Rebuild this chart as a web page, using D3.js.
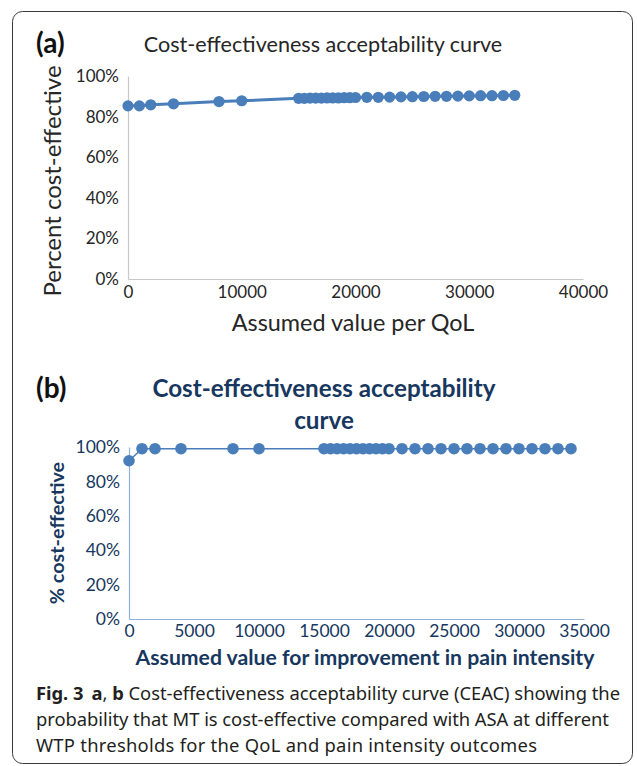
<!DOCTYPE html>
<html>
<head>
<meta charset="utf-8">
<script src="https://cdn.jsdelivr.net/npm/d3@7"></script>
<style>
  html, body { margin: 0; padding: 0; background: #fff; }
  svg { display: block; }
</style>
</head>
<body>
<svg id="fig" width="637" height="766"></svg>
<script>
// Willingness-to-pay thresholds shared by both panels
const wtp = [0, 1000, 2000, 4000, 8000, 10000,
  15000, 15500, 16000, 16500, 17000, 17500, 18000, 18500, 19000, 19500, 20000,
  21000, 22000, 23000, 24000, 25000, 26000, 27000, 28000, 29000, 30000,
  31000, 32000, 33000, 34000];

// Panel (a): probability cost-effective per QoL threshold (%)
const qolPct = [85.3, 85.3, 85.8, 86.3, 87.4, 87.8,
  89.0, 89.0, 89.1, 89.1, 89.1, 89.2, 89.2, 89.2, 89.3, 89.3, 89.4,
  89.5, 89.5, 89.6, 89.7, 89.8, 89.9, 90.0, 90.0, 90.1, 90.2,
  90.3, 90.3, 90.4, 90.5];

// Panel (b): probability cost-effective per pain-intensity threshold (%)
const painPct = [92, 99, 99, 99, 99, 99,
  99, 99, 99, 99, 99, 99, 99, 99, 99, 99, 99,
  99, 99, 99, 99, 99, 99, 99, 99, 99, 99,
  99, 99, 99, 99];

const yTicks = [0, 20, 40, 60, 80, 100];
const xTicksA = [0, 10000, 20000, 30000, 40000];
const xTicksB = [0, 5000, 10000, 15000, 20000, 25000, 30000, 35000];

const captionLines = [
  "Cost-effectiveness acceptability curve (CEAC) showing the",
  "probability that MT is cost-effective compared with ASA at different",
  "WTP thresholds for the QoL and pain intensity outcomes"
];

const svg = d3.select("#fig");
const CHART_FONT = "Lato, 'Open Sans', sans-serif";
const CAP_FONT = "'Noto Sans', 'Open Sans', sans-serif";
const markColor = "#4a7ebb";

// Outer rounded frame
svg.append("rect")
  .attr("x", 12.5).attr("y", 11.5)
  .attr("width", 620).attr("height", 752)
  .attr("rx", 10).attr("ry", 10)
  .attr("fill", "none").attr("stroke", "#3a3a3a").attr("stroke-width", 1);

function drawPanel(opt) {
  const g = svg.append("g");
  const x = d3.scaleLinear().domain(opt.xDomain).range(opt.xRange);
  const y = d3.scaleLinear().domain([0, 100]).range(opt.yRange);

  // y axis
  const ya = g.append("g").attr("transform", `translate(${opt.xRange[0]},0)`)
    .call(d3.axisLeft(y).tickValues(yTicks).tickSize(0).tickPadding(opt.tickPad)
      .tickFormat(d => d + "%"));
  ya.select(".domain").attr("stroke", opt.axisColor).attr("stroke-width", 1.2);
  ya.selectAll("text").attr("font-family", CHART_FONT).attr("font-size", opt.tickSize)
    .attr("fill", opt.textColor);

  // x axis
  const xa = g.append("g").attr("transform", `translate(0,${opt.yRange[0]})`)
    .call(d3.axisBottom(x).tickValues(opt.xTicks).tickSize(0).tickPadding(opt.xTickPad)
      .tickFormat(d3.format("d")));
  xa.select(".domain").attr("stroke", opt.axisColor).attr("stroke-width", 1.2);
  xa.selectAll("text").attr("font-family", CHART_FONT).attr("font-size", opt.tickSize)
    .attr("fill", opt.textColor);

  // series line
  const line = d3.line().x((d, i) => x(wtp[i])).y(d => y(d));
  g.append("path").datum(opt.values)
    .attr("d", line).attr("fill", "none")
    .attr("stroke", markColor).attr("stroke-width", opt.lineWidth);

  // markers
  g.selectAll("circle.m").data(opt.values).join("circle")
    .attr("class", "m")
    .attr("cx", (d, i) => x(wtp[i])).attr("cy", d => y(d))
    .attr("r", opt.r).attr("fill", markColor);

  return g;
}

// ---------- Panel (a) ----------
drawPanel({
  xDomain: [0, 40000], xRange: [128, 583],
  yRange: [279, 76], values: qolPct, xTicks: xTicksA,
  axisColor: "#c8c8c8", textColor: "#262626",
  tickSize: 17, tickPad: 9, xTickPad: 7, lineWidth: 3, r: 5.6
});

svg.append("text").attr("x", 36).attr("y", 53)
  .attr("font-family", CHART_FONT).attr("font-weight", "bold").attr("font-size", 28)
  .attr("fill", "#111").text("(a)");
svg.append("text").attr("x", 323).attr("y", 52).attr("text-anchor", "middle")
  .attr("font-family", CHART_FONT).attr("font-size", 21.6)
  .attr("fill", "#262626").text("Cost-effectiveness acceptability curve");
svg.append("text").attr("transform", "translate(61,181) rotate(-90)")
  .attr("text-anchor", "middle")
  .attr("font-family", CHART_FONT).attr("font-size", 24)
  .attr("fill", "#262626").text("Percent cost-effective");
svg.append("text").attr("x", 353).attr("y", 331).attr("text-anchor", "middle")
  .attr("font-family", CHART_FONT).attr("font-size", 23.4)
  .attr("fill", "#262626").text("Assumed value per QoL");

// ---------- Panel (b) ----------
const navy = "#17375e";
drawPanel({
  xDomain: [0, 35000], xRange: [129, 584],
  yRange: [619, 447], values: painPct, xTicks: xTicksB,
  axisColor: "#8fb1dc", textColor: navy,
  tickSize: 17.5, tickPad: 9, xTickPad: 6, lineWidth: 1.5, r: 5.8
});

svg.append("text").attr("x", 36).attr("y", 398)
  .attr("font-family", CHART_FONT).attr("font-weight", "bold").attr("font-size", 28)
  .attr("fill", "#111").text("(b)");
svg.append("text").attr("x", 324).attr("y", 397).attr("text-anchor", "middle")
  .attr("font-family", CHART_FONT).attr("font-weight", "bold").attr("font-size", 24.2)
  .attr("fill", navy).text("Cost-effectiveness acceptability");
svg.append("text").attr("x", 324).attr("y", 429).attr("text-anchor", "middle")
  .attr("font-family", CHART_FONT).attr("font-weight", "bold").attr("font-size", 24.2)
  .attr("fill", navy).text("curve");
svg.append("text").attr("transform", "translate(64,533) rotate(-90)")
  .attr("text-anchor", "middle")
  .attr("font-family", CHART_FONT).attr("font-weight", "bold").attr("font-size", 19.8)
  .attr("fill", navy).text("% cost-effective");
svg.append("text").attr("x", 365).attr("y", 665).attr("text-anchor", "middle")
  .attr("font-family", CHART_FONT).attr("font-weight", "bold").attr("font-size", 21.2)
  .attr("fill", navy).text("Assumed value for improvement in pain intensity");

// ---------- Caption ----------
const capWidths = [584, 573, 501];
const cap = svg.append("g").attr("font-family", CAP_FONT).attr("font-size", 18.4).attr("fill", "#231f20");
const l1 = cap.append("text").attr("x", 36).attr("y", 700)
  .attr("textLength", capWidths[0]).attr("lengthAdjust", "spacing");
l1.append("tspan").attr("font-weight", "bold").text("Fig. 3");
l1.append("tspan").attr("dx", 8).attr("font-weight", "bold").text("a");
l1.append("tspan").text(", ");
l1.append("tspan").attr("font-weight", "bold").text("b");
l1.append("tspan").text(" " + captionLines[0]);
cap.append("text").attr("x", 36).attr("y", 726)
  .attr("textLength", capWidths[1]).attr("lengthAdjust", "spacing").text(captionLines[1]);
cap.append("text").attr("x", 36).attr("y", 752)
  .attr("textLength", capWidths[2]).attr("lengthAdjust", "spacing").text(captionLines[2]);
</script>
</body>
</html>
